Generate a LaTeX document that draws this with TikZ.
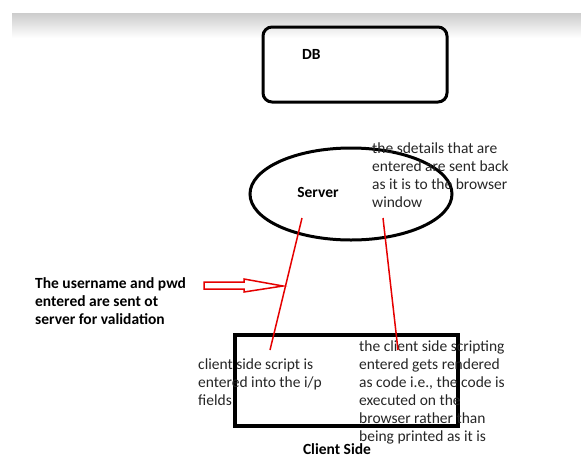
\documentclass[tikz,border=0pt]{standalone}
\usepackage{fontspec}
\setmainfont{Carlito}
\begin{document}
\begin{tikzpicture}[x=1pt,y=-1pt,
  txt/.style={inner sep=0pt,align=left,text=black!85,font=\fontsize{15.5}{18}\selectfont},
  btxt/.style={inner sep=0pt,align=left,font=\fontsize{15.5}{18}\selectfont\bfseries},
  redline/.style={draw=red!90!black,line width=1.5pt}]
\useasboundingbox (0,0) rectangle (581,456);
\fill[top color=black!20,bottom color=white] (12,13) rectangle (581,38);
% DB
\draw[line width=3pt,rounded corners=9pt] (263,27) rectangle (447,102);
\node[btxt,anchor=north west] (db) at (302,49) {DB};
% Server
\draw[line width=3pt] (351,194) ellipse [x radius=101,y radius=46];
\node[btxt,anchor=north] (server) at (318,187) {Server};
\node[txt,anchor=north west] (back) at (372,143) {the sdetails that are\\entered are sent back\\as it is to the browser\\window};
% client box
\draw[line width=3.4pt] (235,335) rectangle (458,426);
\node[txt,anchor=north west] (entered) at (198,359) {client side script is\\entered into the i/p\\fields};
\node[txt,anchor=north west] (rendered) at (359,341) {the client side scripting\\entered gets rendered\\as code i.e., the code is\\executed on the\\browser rather than\\being printed as it is};
\node[btxt,anchor=north] (client) at (337,443) {Client Side};
% red lines
\coordinate (s1) at (302,218);
\coordinate (c1) at (270,350);
\coordinate (s2) at (383,218);
\coordinate (c2) at (398,350);
\draw[redline] (s1) -- (c1);
\draw[redline] (s2) -- (c2);
% left text and arrow
\node[btxt,anchor=north west] (user) at (35,277) {The username and pwd\\entered are sent ot\\server for validation};
\draw[redline,line join=miter] (204,282) -- (244,282) -- (244,279) -- (283,286) -- (244,292) -- (244,289) -- (204,289) -- cycle;
\end{tikzpicture}
\end{document}
